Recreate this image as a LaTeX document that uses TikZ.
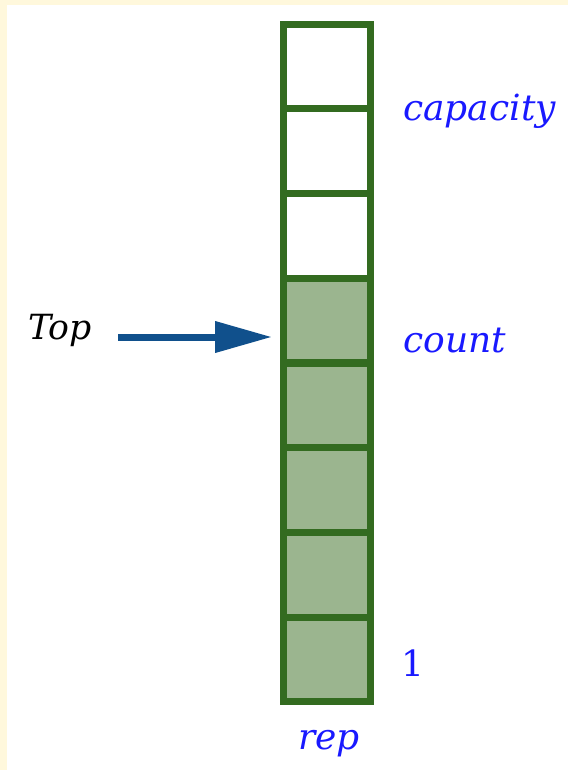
\documentclass[tikz,border=0pt]{standalone}
\usepackage{fontspec}
\setmainfont{DejaVu Serif}
\newfontfamily\lblfont{DejaVu Serif}
\usetikzlibrary{arrows.meta}
\definecolor{cream}{RGB}{255,248,220}
\definecolor{cellborder}{RGB}{51,107,32}
\definecolor{cellfill}{RGB}{155,181,143}
\definecolor{lblblue}{RGB}{25,25,255}
\definecolor{arrowblue}{RGB}{16,80,140}
\tikzset{
  cell/.style={draw=cellborder, line width=5.25pt, minimum width=65.25pt, minimum height=63.56pt, inner sep=0pt, outer sep=0pt, fill=white},
  usedcell/.style={cell, fill=cellfill},
  lbl/.style={text=lblblue, font=\lblfont\fontsize{27}{33}\selectfont\itshape, inner sep=0pt},
  numlbl/.style={text=lblblue, font=\lblfont\fontsize{27}{33}\selectfont, inner sep=0pt},
  toplbl/.style={text=black, font=\lblfont\fontsize{26}{33}\selectfont\itshape, inner sep=0pt},
  pointer/.style={draw=arrowblue, line width=5.25pt, -{Triangle[length=42.75pt, width=22.5pt]}}
}
\begin{document}
\begin{tikzpicture}[x=0.75pt, y=-0.75pt]
\useasboundingbox (0,0) rectangle (568,770);
\fill[cream] (0,0) rectangle (568,770);
\fill[white] (7,5) rectangle (568,770);
\node[cell] (c1) at (327,66.4) {};
\node[cell] (c2) at (327,151.1) {};
\node[cell] (c3) at (327,235.9) {};
\node[usedcell] (c4) at (327,320.6) {};
\node[usedcell] (c5) at (327,405.4) {};
\node[usedcell] (c6) at (327,490.1) {};
\node[usedcell] (c7) at (327,574.9) {};
\node[usedcell] (c8) at (327,659.6) {};
\node[lbl, anchor=base west] (cap) at (403,121) {capacity};
\node[lbl, anchor=base west] (cnt) at (403,352) {count};
\node[numlbl, anchor=base] (one) at (413,676) {1};
\node[lbl, anchor=base] (rep) at (329,749) {rep};
\node[toplbl, anchor=base west] (top) at (28,339) {Top};
\coordinate (ps) at (118,337);
\coordinate (pe) at (272,337);
\draw[pointer] (ps) -- (pe);
\end{tikzpicture}
\end{document}
